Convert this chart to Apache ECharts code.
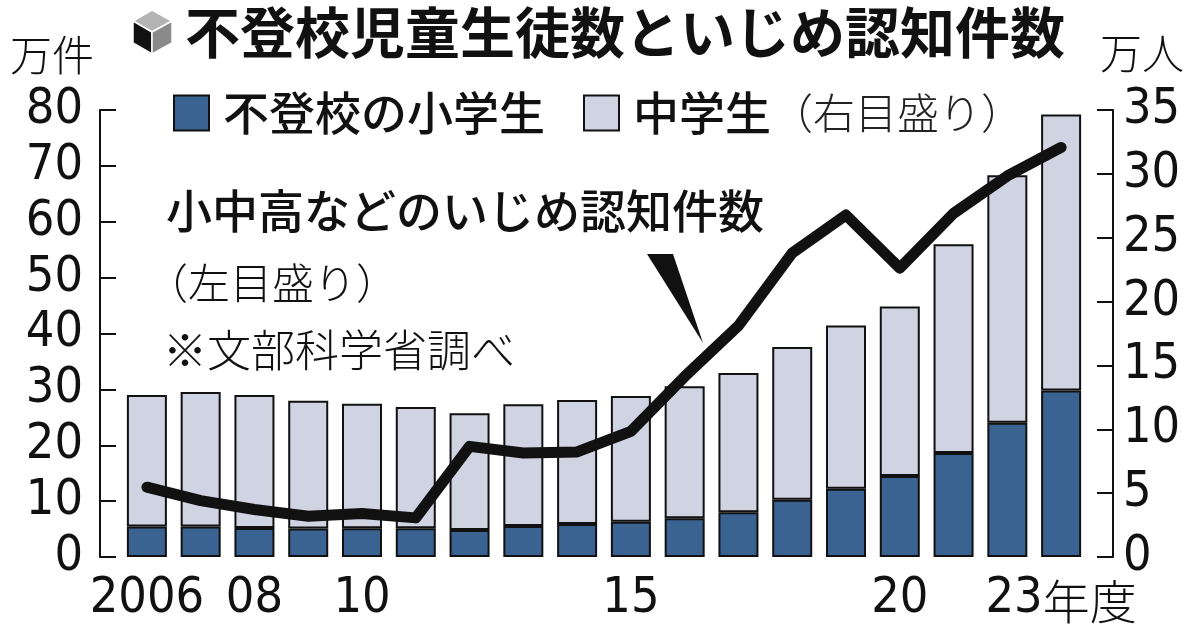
<!DOCTYPE html>
<html>
<head>
<meta charset="utf-8">
<script src="https://cdn.jsdelivr.net/npm/echarts@6/dist/echarts.min.js"></script>
<style>
  html, body { margin: 0; padding: 0; background: #fff; }
  #chart { width: 1200px; height: 625px; }
</style>
</head>
<body>
<div id="chart"></div>
<script>
// 年度
var years = ['2006','2007','2008','2009','2010','2011','2012','2013','2014',
             '2015','2016','2017','2018','2019','2020','2021','2022','2023'];
var xTickLabels = ['2006','','08','','10','','','','','15','','','','','20','','','23年度'];
// 不登校 小学生（万人）
var elementary = [2.38, 2.39, 2.27, 2.23, 2.25, 2.26, 2.12, 2.42, 2.59, 2.76, 3.04, 3.50, 4.48, 5.34, 6.34, 8.15, 10.51, 13.04];
// 不登校 中学生（万人）
var juniorHigh = [10.31, 10.53, 10.42, 10.01, 9.74, 9.48, 9.14, 9.54, 9.70, 9.84, 10.32, 10.90, 11.97, 12.79, 13.28, 16.34, 19.39, 21.61];
// 小中高などのいじめ認知件数（万件）
var bullying = [12.5, 10.1, 8.5, 7.3, 7.8, 7.0, 19.8, 18.6, 18.8, 22.5, 32.3, 41.4, 54.4, 61.2, 51.7, 61.5, 68.2, 73.3];

var NUM_FONT = "'DejaVu Sans Condensed', sans-serif";
var JP_FONT = "'Noto Sans CJK JP', sans-serif";
var INK = '#111';

var chart = echarts.init(document.getElementById('chart'));

var option = {
  animation: false,
  backgroundColor: '#fff',
  title: {
    text: '不登校児童生徒数といじめ認知件数',
    left: 180,
    top: 0,
    textStyle: { fontFamily: JP_FONT, fontSize: 55, fontWeight: 'bold', color: INK }
  },
  legend: {
    left: 168,
    top: 85,
    itemWidth: 35,
    itemHeight: 35,
    itemGap: 38,
    icon: 'rect',
    selectedMode: false,
    data: ['不登校の小学生', '中学生'],
    formatter: function (name) {
      return name === '中学生' ? '{b|中学生}{n|（右目盛り）}' : '{b|' + name + '}';
    },
    textStyle: {
      padding: [0, 0, 0, 9],
      rich: {
        b: { fontFamily: JP_FONT, fontSize: 46, fontWeight: 500, color: INK },
        n: { fontFamily: JP_FONT, fontSize: 42, fontWeight: 300, color: '#222' }
      }
    }
  },
  grid: { left: 120, right: 112, top: 110, bottom: 68 },
  xAxis: {
    type: 'category',
    data: years,
    axisLine: { show: false },
    axisTick: { show: false },
    axisLabel: {
      interval: 0,
      margin: 17,
      fontFamily: NUM_FONT,
      fontSize: 50,
      color: INK,
      formatter: function (v, i) {
        var s = xTickLabels[i];
        var m = /^(\d+)(.*)$/.exec(s);
        if (m && m[2]) return '{d|' + m[1] + '}{k|' + m[2] + '}';
        return s;
      },
      rich: {
        d: { fontFamily: NUM_FONT, fontSize: 50, color: INK },
        k: { fontFamily: JP_FONT, fontSize: 47, fontWeight: 300, color: INK, padding: [4, 0, 0, 0] }
      }
    }
  },
  yAxis: [
    {
      type: 'value',
      position: 'left',
      min: 0, max: 80, interval: 10,
      offset: 20,
      axisLine: { show: true, lineStyle: { color: INK, width: 2 } },
      axisTick: { show: true, inside: false, length: -16, lineStyle: { color: INK, width: 2 } },
      splitLine: { show: false },
      axisLabel: {
        showMinLabel: true, showMaxLabel: true, hideOverlap: false,
        margin: 17, fontFamily: NUM_FONT, fontSize: 50, color: INK, padding: [6, 0, 0, 0]
      }
    },
    {
      type: 'value',
      position: 'right',
      min: 0, max: 35, interval: 5,
      offset: 25,
      axisLine: { show: true, lineStyle: { color: INK, width: 2 } },
      axisTick: { show: true, inside: true, length: 16, lineStyle: { color: INK, width: 2 } },
      splitLine: { show: false },
      axisLabel: {
        showMinLabel: true, showMaxLabel: true, hideOverlap: false,
        margin: 10, fontFamily: NUM_FONT, fontSize: 50, color: INK, padding: [0, 0, 6, 0]
      }
    }
  ],
  series: [
    {
      name: '不登校の小学生',
      type: 'bar',
      stack: 'futoko',
      yAxisIndex: 1,
      barWidth: 40,
      itemStyle: { color: '#3b6391', borderColor: INK, borderWidth: 2 },
      data: elementary
    },
    {
      name: '中学生',
      type: 'bar',
      stack: 'futoko',
      yAxisIndex: 1,
      barWidth: 40,
      itemStyle: { color: '#cfd3e2', borderColor: INK, borderWidth: 2 },
      data: juniorHigh
    },
    {
      name: 'いじめ認知件数',
      type: 'line',
      yAxisIndex: 0,
      symbol: 'none',
      z: 5,
      lineStyle: { color: INK, width: 11, cap: 'round', join: 'round' },
      data: bullying
    }
  ],
  graphic: [
    // title cube icon
    { type: 'polygon', shape: { points: [[152,10],[172,21],[152,32],[133,21]] }, style: { fill: '#b4b4b4', stroke: '#fff', lineWidth: 1.5 } },
    { type: 'polygon', shape: { points: [[133,21],[152,32],[152,54],[133,43]] }, style: { fill: '#111', stroke: '#fff', lineWidth: 1.5 } },
    { type: 'polygon', shape: { points: [[152,32],[172,21],[172,43],[152,54]] }, style: { fill: '#8a8a8a', stroke: '#fff', lineWidth: 1.5 } },
    // axis units
    { type: 'text', left: 10, top: 34, style: { text: '万件', font: '300 42px ' + JP_FONT, fill: INK } },
    { type: 'text', left: 1100, top: 32, style: { text: '万人', font: '300 42px ' + JP_FONT, fill: INK } },
    // annotations
    { type: 'text', left: 166, top: 188, style: { text: '小中高などのいじめ認知件数', font: '500 46px ' + JP_FONT, fill: INK } },
    { type: 'text', left: 146, top: 262, style: { text: '（左目盛り）', font: '300 42px ' + JP_FONT, fill: INK } },
    { type: 'text', left: 163, top: 328, style: { text: '※文部科学省調べ', font: '300 44px ' + JP_FONT, fill: INK } },
    // pointer wedge
    { type: 'polygon', shape: { points: [[647,254],[673,254],[703,343]] }, style: { fill: INK } }
  ]
};

chart.setOption(option);
</script>
</body>
</html>
